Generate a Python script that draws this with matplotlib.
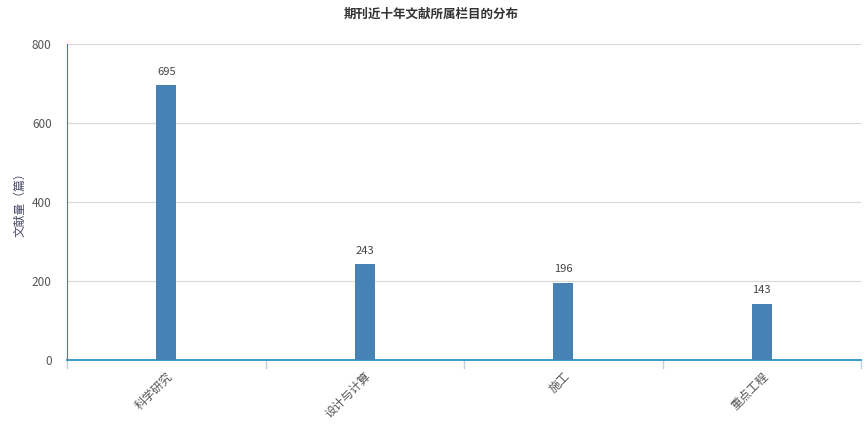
import matplotlib
matplotlib.use("Agg")
import matplotlib.pyplot as plt

plt.rcParams['font.family'] = ['Noto Sans CJK SC', 'DejaVu Sans']

categories = ['科学研究', '设计与计算', '施工', '重点工程']
values = [695, 243, 196, 143]
yticks = [0, 200, 400, 600, 800]

fig = plt.figure(figsize=(8.67, 4.30), dpi=100)
ax = fig.add_axes([67/867, 1-360/430, (861-67)/867, (360-44)/430])

x = list(range(len(categories)))
bars = ax.bar(x, values, width=0.1, color='#4682b4', zorder=3)
for xi, v in zip(x, values):
    ax.annotate(str(v), (xi, v), xytext=(0, 6), textcoords='offset points',
                ha='center', va='bottom', fontsize=8, color='#444444')

ax.set_xlim(-0.5, len(categories) - 0.5)
ax.set_ylim(0, 800)
ax.set_yticks(yticks)
ax.set_yticklabels([str(t) for t in yticks], fontsize=8.5, color='#555555')
ax.yaxis.grid(True, color='#d8d8d8', linewidth=0.8, zorder=0)
ax.tick_params(axis='y', length=0, pad=11)

ax.set_xticks(x)
ax.set_xticklabels(categories, rotation=45, ha='right', va='top',
                   rotation_mode='anchor', fontsize=8.5, color='#555555')
ax.tick_params(axis='x', length=0, pad=7)
for xb in [i - 0.5 for i in range(len(categories) + 1)]:
    ax.plot([xb, xb], [0, -0.025], transform=ax.get_xaxis_transform(),
            color='#c0d0e0', linewidth=1, clip_on=False)

for s in ['top', 'right']:
    ax.spines[s].set_visible(False)
ax.spines['bottom'].set_color('#1a8ac6')
ax.spines['bottom'].set_linewidth(1.2)
ax.spines['left'].set_color('#1a8ac6')
ax.spines['left'].set_linewidth(0.8)

ax.set_ylabel('文献量（篇）', fontsize=8.5, color='#4a4a6a', labelpad=4)
fig.text(431/867, 1-14/430, '期刊近十年文献所属栏目的分布', ha='center', va='center',
         fontsize=9, fontweight='bold', color='#333333')

fig.savefig('out.png', dpi=100)
